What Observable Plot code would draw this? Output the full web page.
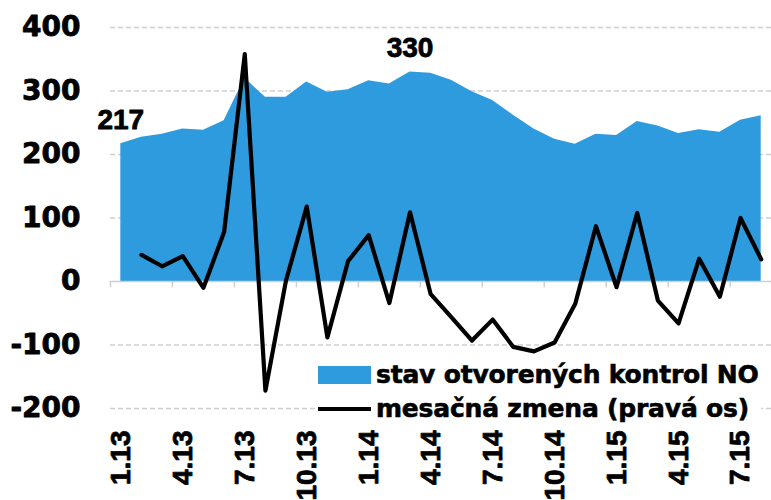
<!DOCTYPE html>
<html>
<head>
<meta charset="utf-8">
<script src="https://cdn.jsdelivr.net/npm/d3@7"></script>
<script src="https://cdn.jsdelivr.net/npm/@observablehq/plot@0.6"></script>
<style>
  html, body { margin: 0; padding: 0; background: #fff; overflow: hidden; }
  #wrap { position: relative; width: 771px; height: 500px; }
  #legend { position: absolute; left: 316px; top: 356px; background: #fff; font-family: "DejaVu Sans", sans-serif; font-weight: bold; font-size: 25px; letter-spacing: -0.2px; -webkit-text-stroke: 0.6px #000; color: #000; padding: 2px 2px 2px 2px; line-height: 34px; }
  .row { display: flex; align-items: center; white-space: nowrap; }
  .sw { width: 53px; height: 18px; background: #2d9bdd; margin-right: 5px; display: inline-block; }
  .ln { width: 53px; height: 4px; background: #000; margin-right: 5px; display: inline-block; }
</style>
</head>
<body>
<div id="wrap"></div>
<script>
const months = ["1.13","2.13","3.13","4.13","5.13","6.13","7.13","8.13","9.13","10.13","11.13","12.13",
                "1.14","2.14","3.14","4.14","5.14","6.14","7.14","8.14","9.14","10.14","11.14","12.14",
                "1.15","2.15","3.15","4.15","5.15","6.15","7.15","8.15"];
const stav = [217,227,232,240,238,253,320,290,290,314,298,302,316,311,330,328,317,299,285,262,240,224,216,232,230,252,245,233,239,235,254,261];
const zmena = [null,42,24,40,-10,78,358,-172,2,118,-88,32,73,-34,109,-20,-56,-93,-60,-103,-110,-96,-35,87,-9,108,-30,-66,36,-24,100,35];
const yTicks = [-200,-100,0,100,200,300,400];
const gridTicks = [-200,-100,100,200,300,400];
const labelIdx = [0,3,6,9,12,15,18,21,24,27,30];
const boundaryTicks = [-0.5,2.5,5.5,8.5,11.5,14.5,17.5,20.5,23.5,26.5,29.5];
const notes = [{i: 0, v: 217, t: "217"}, {i: 14, v: 330, t: "330"}];
const legendItems = ["stav otvorených kontrol NO", "mesačná zmena (pravá os)"];

const areaData = stav.map((v, i) => ({i, v}));
const lineData = zmena.map((v, i) => ({i, v})).filter(d => d.v !== null);

const heavy = {stroke: "#000", strokeWidth: 0.8, fill: "#000"};

const chart = Plot.plot({
  width: 771,
  height: 500,
  marginLeft: 110,
  marginRight: 0,
  marginTop: 27,
  marginBottom: 92,
  style: {fontFamily: "Liberation Sans, sans-serif", overflow: "visible"},
  x: {domain: [-0.5, 31.5], axis: null},
  y: {domain: [-200, 400], axis: null},
  marks: [
    Plot.ruleY(gridTicks, {stroke: "#cfcfcf", strokeWidth: 1.5, strokeDasharray: "5,3"}),
    Plot.areaY(areaData, {x: "i", y: "v", fill: "#2d9bdd"}),
    Plot.ruleY([0], {stroke: "#cfcfcf", strokeWidth: 1.5}),
    Plot.ruleX(boundaryTicks, {x: d => d, y1: 0, y2: -10, stroke: "#cfcfcf", strokeWidth: 1.5}),
    Plot.line(lineData, {x: "i", y: "v", stroke: "#000", strokeWidth: 4.2, strokeLinejoin: "round"}),
    Plot.text(yTicks, {x: -0.5, y: d => d, text: d => String(d), textAnchor: "end", dx: -30, fontFamily: "DejaVu Sans", fontWeight: "bold", fontSize: 28, ...heavy}),
    Plot.text(labelIdx, {x: d => d, y: -200, text: d => months[d], rotate: -90, textAnchor: "end", lineAnchor: "middle", dy: 22, fontFamily: "Liberation Sans", fontWeight: "bold", fontSize: 28, ...heavy}),
    Plot.text(notes, {x: "i", y: "v", text: "t", textAnchor: "middle", lineAnchor: "bottom", dy: -15, fontFamily: "Liberation Sans", fontWeight: "bold", fontSize: 28, ...heavy})
  ]
});
const wrap = document.getElementById("wrap");
wrap.appendChild(chart);

const legend = document.createElement("div");
legend.id = "legend";
legend.innerHTML = `<div class="row"><span class="sw"></span><span>${legendItems[0]}</span></div>` +
                   `<div class="row"><span class="ln"></span><span>${legendItems[1]}</span></div>`;
wrap.appendChild(legend);
</script>
</body>
</html>
